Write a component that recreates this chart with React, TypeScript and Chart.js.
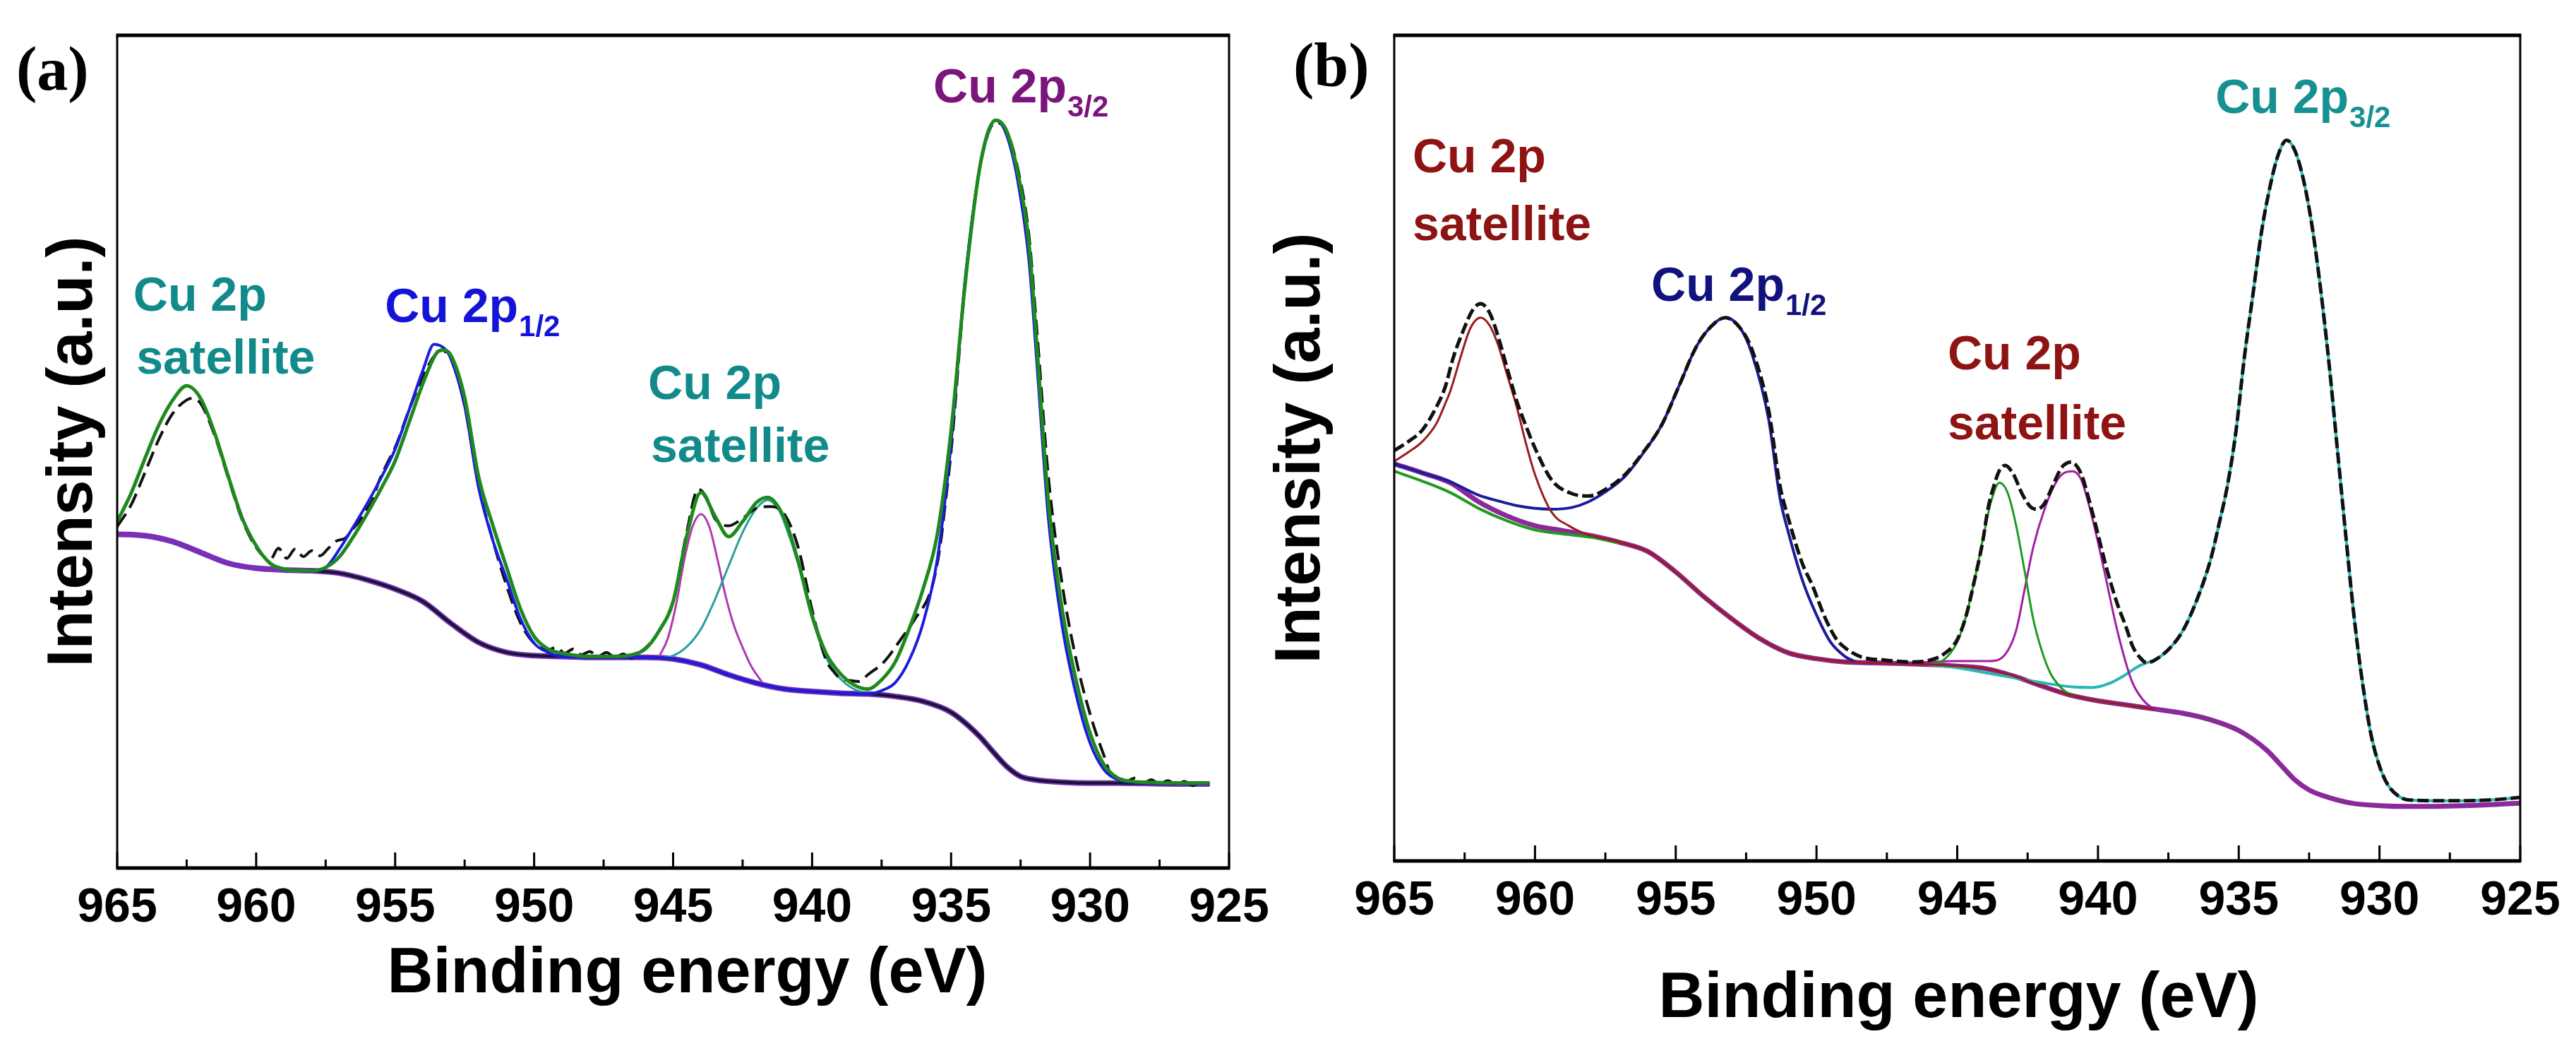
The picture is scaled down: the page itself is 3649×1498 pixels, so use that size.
import { useEffect, useRef } from "react";
import { Chart, registerables } from "chart.js";

Chart.register(...registerables);

type Pt = [number, number];

// x axis ticks (binding energy, eV)
const MAJOR_TICKS = [965, 960, 955, 950, 945, 940, 935, 930, 925];
const MINOR_TICKS = [962.5, 957.5, 952.5, 947.5, 942.5, 937.5, 932.5, 927.5];

// ---------- panel (a) ----------
const A_BACKGROUND: Pt[] = [
  [965, 40.1], [964, 39.9], [963, 39.2], [962, 37.9], [961, 36.6], [960, 36.0], [959, 35.8], [958, 35.7],
  [957, 35.4], [956, 34.6], [955, 33.5], [954, 32.0], [953, 29.4], [952, 27.1], [951, 25.9], [950, 25.5],
  [949, 25.4], [948, 25.3], [947, 25.3], [946, 25.3], [945, 25.1], [944, 24.4], [943, 23.2], [942, 22.2],
  [941, 21.5], [940, 21.2], [939, 21.0], [938, 20.9], [937, 20.6], [936, 20.0], [935, 18.7], [934, 15.9],
  [933.5, 14.0], [933, 12.2], [932.5, 11.0], [932, 10.6], [931, 10.3], [930, 10.2], [929, 10.2], [927, 10.1],
  [925.7, 10.1],
];

const A_FIT: Pt[] = [
  [965, 41.6], [964.5, 45.0], [964, 49.2], [963.5, 53.2], [963, 56.2], [962.5, 57.9], [962, 56.4], [961.5, 52.3],
  [961, 47.0], [960.5, 42.0], [960, 38.7], [959.5, 36.6], [959, 35.9], [958.5, 35.7], [958, 35.7], [957.5, 36.1],
  [957, 37.4], [956.5, 39.8], [956, 42.6], [955.5, 45.6], [955, 48.9], [954.5, 53.5], [954, 58.2], [953.5, 61.9],
  [953.3, 62.2], [953, 61.6], [952.5, 56.5], [952, 47.0], [951.5, 41.3], [951, 36.2], [950.5, 31.2], [950, 27.8],
  [949.5, 26.3], [949, 25.8], [948, 25.4], [947, 25.4], [946.5, 25.6], [946, 26.3], [945.5, 28.5], [945, 32.0],
  [944.5, 40.0], [944, 45.1], [943.5, 42.3], [943, 39.8], [942.5, 41.6], [942, 43.9], [941.6, 44.5], [941, 42.0],
  [940.5, 36.8], [940, 30.3], [939.5, 25.8], [939, 23.4], [938.5, 22.0], [938, 21.5], [937.5, 22.6], [937, 24.8],
  [936.5, 28.8], [936, 33.6], [935.5, 40.0], [935, 52.5], [934.5, 70.0], [934, 83.5], [933.7, 88.0], [933.4, 89.8],
  [933, 88.5], [932.6, 83.5], [932.2, 75.0], [931.9, 62.0], [931.5, 44.0], [931, 31.0], [930.5, 22.5], [930, 16.2],
  [929.5, 12.4], [929, 10.8], [928.5, 10.4], [928, 10.3], [927, 10.2], [926, 10.2], [925.7, 10.2],
];

const A_DATA: Pt[] = [
  [965, 41.0], [964.5, 43.6], [964, 47.5], [963.5, 51.5], [963, 54.6], [962.5, 56.2], [962.3, 56.4], [962, 55.8],
  [961.5, 52.0], [961, 46.8], [960.5, 41.8], [960, 38.5], [959.5, 37.0], [959.2, 38.4], [958.9, 37.2], [958.6, 38.3],
  [958.3, 37.4], [958, 38.1], [957.7, 37.5], [957.4, 38.4], [957.1, 39.3], [956.8, 39.6], [956.5, 40.8], [956.3, 41.6],
  [956, 43.2], [955.8, 44.3], [955.6, 46.3], [955.3, 48.5], [955, 50.5], [954.5, 55.0], [954, 59.0], [953.5, 61.8],
  [953.2, 62.0], [953, 61.5], [952.5, 55.5], [952, 46.0], [951.5, 39.5], [951, 34.0], [950.5, 29.5], [950, 27.0],
  [949.5, 26.2], [949.2, 26.5], [948.9, 25.8], [948.6, 26.3], [948.3, 25.6], [948, 26.0], [947.7, 25.4], [947.4, 25.9],
  [947.1, 25.3], [946.8, 25.7], [946.5, 25.2], [946.2, 25.9], [946, 26.4], [945.5, 28.5], [945, 32.0], [944.5, 40.5],
  [944.1, 45.5], [943.8, 44.5], [943.5, 42.0], [943, 41.1], [942.5, 42.0], [942, 43.2], [941.5, 43.4], [941, 42.5],
  [940.5, 38.5], [940, 31.0], [939.5, 25.0], [939.2, 23.5], [939, 22.8], [938.6, 22.5], [938.3, 22.4], [938, 23.2],
  [937.4, 24.8], [936.8, 27.5], [936.3, 29.9], [935.7, 33.6], [935.4, 38.5], [935.2, 44.0], [935, 50.0], [934.5, 70.0],
  [934, 83.5], [933.4, 89.5], [933, 88.5], [932.6, 84.0], [932.2, 76.0], [931.9, 64.0], [931.5, 47.0], [931, 34.0],
  [930.5, 25.0], [930, 18.5], [929.5, 13.5], [929.2, 11.0], [929, 10.9], [928.7, 10.4], [928.4, 10.8], [928.1, 10.2],
  [927.8, 10.6], [927.5, 10.1], [927.2, 10.5], [926.9, 10.0], [926.6, 10.4], [926.3, 9.9], [926, 10.3], [925.7, 10.0],
];

const A_CU2P_12: Pt[] = [
  [958.5, 35.7], [958, 35.7], [957.5, 36.1], [957, 38.3], [956.5, 41.0], [956, 43.8], [955.5, 46.9], [955, 50.3],
  [954.5, 55.0], [954, 59.8], [953.6, 62.9], [953.2, 62.3], [953, 61.2], [952.5, 55.5], [952, 45.7], [951.5, 39.5],
  [951, 34.8], [950.5, 30.0], [950, 27.0], [949.5, 25.9],
];

const A_CU2P_32: Pt[] = [
  [937.5, 21.3], [937, 22.3], [936.5, 25.0], [936, 29.5], [935.5, 37.0], [935, 51.0], [934.5, 70.5], [934, 83.5],
  [933.7, 88.2], [933.4, 89.8], [933, 88.0], [932.6, 82.5], [932.2, 73.0], [931.9, 60.0], [931.5, 42.0], [931, 29.0],
  [930.5, 20.8], [930, 15.0], [929.5, 11.8], [929, 10.6], [928.5, 10.3], [928, 10.2], [925.7, 10.1],
];

const A_SAT_944: Pt[] = [
  [945.5, 25.4], [945.2, 27.5], [944.9, 31.5], [944.6, 37.0], [944.3, 41.0], [944, 42.5], [943.7, 41.0], [943.4, 37.0],
  [943.1, 32.5], [942.8, 29.0], [942.5, 26.5], [942.2, 24.3], [941.8, 22.3],
];

const A_SAT_941: Pt[] = [
  [945.5, 25.2], [945, 25.5], [944.5, 26.6], [944, 28.7], [943.5, 32.2], [943, 36.3], [942.5, 40.3], [942, 43.2],
  [941.6, 44.2], [941.2, 43.0], [941, 41.5], [940.5, 36.5], [940, 30.0], [939.5, 25.3], [939, 22.8], [938.5, 21.5],
  [938, 21.0],
];

// ---------- panel (b) ----------
const B_BACKGROUND: Pt[] = [
  [965, 48.1], [964, 47.0], [963, 45.8], [962, 43.5], [961, 41.8], [960, 40.6], [959, 40.0], [958, 39.4],
  [957, 38.6], [956, 37.5], [955, 35.0], [954, 32.0], [953, 29.3], [952, 26.9], [951, 25.2], [950, 24.5],
  [949, 24.1], [948, 24.0], [947, 23.9], [946, 23.8], [945, 23.6], [944, 23.3], [943, 22.4], [942, 21.2],
  [941, 20.1], [940, 19.4], [939, 18.9], [938, 18.4], [937, 17.9], [936, 17.1], [935, 15.8], [934, 13.4],
  [933.5, 11.6], [933, 9.8], [932.5, 8.6], [932, 7.9], [931, 7.0], [930, 6.7], [929, 6.6], [927, 6.7], [925, 7.0],
];

const B_DATA: Pt[] = [
  [965, 49.7], [964.5, 50.8], [964, 52.2], [963.5, 55.0], [963.2, 57.3], [962.9, 61.0], [962.6, 63.8], [962.2, 66.8],
  [961.93, 67.5], [961.6, 66.3], [961.3, 63.4], [961, 59.8], [960.65, 55.7], [960.3, 52.5], [960, 50.0], [959.4, 46.1],
  [958.7, 44.5], [958.1, 44.2], [957.45, 45.1], [956.8, 46.8], [956.2, 49.3], [955.5, 52.8], [954.9, 57.4], [954.25, 62.4],
  [953.6, 65.2], [953.23, 65.8], [952.7, 64.5], [952.3, 62.0], [951.7, 54.6], [951.3, 45.5], [951, 41.5], [950.5, 36.0],
  [950.15, 33.4], [949.7, 29.5], [949.3, 26.9], [948.9, 25.6], [948.4, 24.7], [947.5, 24.3], [946.6, 24.1], [946, 24.3],
  [945.5, 25.0], [945, 26.8], [944.7, 29.5], [944.4, 33.8], [944.1, 38.6], [943.9, 42.8], [943.7, 45.4], [943.5, 47.3],
  [943.3, 47.9], [943, 46.8], [942.7, 44.5], [942.4, 42.9], [942.15, 42.6], [941.9, 43.3], [941.6, 45.5], [941.3, 47.6],
  [940.96, 48.3], [940.6, 46.9], [940.3, 43.5], [940.04, 40.1], [939.7, 35.5], [939.33, 31.3], [939, 28.3], [938.77, 26.0],
  [938.5, 24.6], [938.27, 24.0], [938, 24.3], [937.5, 25.6], [937, 27.8], [936.5, 31.5], [936, 36.5], [935.7, 40.8],
  [935.4, 45.5], [935.1, 52.0], [934.8, 61.0], [934.5, 68.5], [934.2, 76.0], [933.9, 81.5], [933.6, 85.5], [933.3, 87.3],
  [933, 86.0], [932.7, 82.5], [932.4, 77.0], [932.1, 69.5], [931.8, 60.5], [931.5, 50.0], [931.2, 39.5], [930.9, 29.5],
  [930.6, 21.5], [930.3, 15.3], [930, 11.5], [929.7, 9.2], [929.3, 7.8], [929, 7.4], [928, 7.3], [927, 7.3],
  [926, 7.4], [925, 7.7],
];

const B_SAT_962: Pt[] = [
  [965, 48.4], [964.5, 49.5], [964, 50.8], [963.5, 53.0], [963.2, 55.3], [963, 57.0], [962.6, 61.5], [962.3, 64.5],
  [961.93, 65.8], [961.6, 64.8], [961.3, 62.4], [961, 59.0], [960.65, 55.0], [960.3, 50.3], [960, 46.8], [959.4, 42.2],
  [958.8, 40.6], [958.2, 39.6],
];

const B_CU2P_12: Pt[] = [
  [965, 48.1], [964, 47.0], [963, 45.9], [962, 44.3], [961.3, 43.6], [960.6, 43.0], [960, 42.7], [959.4, 42.6],
  [958.7, 42.8], [958.1, 43.5], [957.5, 44.7], [956.8, 46.6], [956.2, 49.2], [955.5, 52.8], [954.9, 57.4], [954.25, 62.4],
  [953.6, 65.2], [953.24, 65.8], [952.7, 64.5], [952.3, 61.5], [951.7, 53.5], [951.3, 44.0], [951, 39.8], [950.5, 34.0],
  [950, 29.8], [949.5, 26.5], [949, 24.8], [948.6, 24.1],
];

const B_GREEN_BASE: Pt[] = [
  [965, 47.2], [964, 46.0], [963, 44.6], [962, 42.7], [961, 41.2], [960, 40.1], [959, 39.6], [958, 39.2], [957, 38.5],
];

const B_SAT_943: Pt[] = [
  [946, 23.8], [945.5, 24.3], [945, 26.5], [944.7, 29.5], [944.4, 33.8], [944.1, 38.8], [943.8, 43.5], [943.5, 45.8],
  [943.2, 44.5], [942.9, 40.5], [942.6, 35.0], [942.3, 29.3], [942, 25.5], [941.7, 22.8], [941.4, 21.3], [941.1, 20.4],
  [940.8, 20.0],
];

const B_SAT_941: Pt[] = [
  [947, 23.9], [946, 24.1], [945, 24.2], [944, 24.2], [943.6, 24.3], [943.2, 25.5], [942.9, 28.0], [942.6, 33.0],
  [942.3, 38.0], [941.9, 42.6], [941.5, 45.8], [941.2, 47.0], [940.9, 47.2], [940.6, 46.2], [940.2, 41.5], [939.8, 35.5],
  [939.3, 27.7], [938.8, 21.8], [938.4, 19.5], [938.07, 18.5],
];

const B_CU2P_32_BASE: Pt[] = [
  [946, 23.8], [945, 23.4], [944, 22.8], [943, 22.2], [942, 21.6], [941, 21.1], [940.2, 21.0], [939.6, 21.5],
  [939, 22.6], [938.6, 23.5],
];

const SANS = '"Liberation Sans", Arial, Helvetica, sans-serif';
const SERIF = '"Liberation Serif", "Times New Roman", serif';

interface PeakLabel {
  text: string;
  sub?: string;
  e: number;
  i: number;
  color: string;
}

const LABELS_A: PeakLabel[] = [
  { text: "Cu 2p", sub: "3/2", e: 935.64, i: 91.9, color: "#7b157b" },
  { text: "Cu 2p", e: 964.42, i: 66.9, color: "#138a8a" },
  { text: "satellite", e: 964.31, i: 59.4, color: "#138a8a" },
  { text: "Cu 2p", sub: "1/2", e: 955.37, i: 65.6, color: "#1414d8" },
  { text: "Cu 2p", e: 945.9, i: 56.3, color: "#138a8a" },
  { text: "satellite", e: 945.8, i: 48.8, color: "#138a8a" },
];

const LABELS_B: PeakLabel[] = [
  { text: "Cu 2p", e: 964.35, i: 83.4, color: "#8e1414" },
  { text: "satellite", e: 964.35, i: 75.2, color: "#8e1414" },
  { text: "Cu 2p", sub: "1/2", e: 955.87, i: 67.8, color: "#12127e" },
  { text: "Cu 2p", e: 945.34, i: 59.5, color: "#8e1414" },
  { text: "satellite", e: 945.34, i: 51.1, color: "#8e1414" },
  { text: "Cu 2p", sub: "3/2", e: 935.83, i: 90.6, color: "#169090" },
];

const between = (pts: Pt[], hi: number, lo: number) => pts.filter(([e]) => e <= hi && e >= lo);
const joinPts = (...parts: Pt[][]) => parts.flat().sort((p, q) => q[0] - p[0]);

function line(pts: Pt[], color: string, width: number, dash: number[] = []) {
  return {
    data: pts.map(([x, y]) => ({ x, y })),
    borderColor: color,
    borderWidth: width,
    borderDash: dash,
    pointRadius: 0,
    fill: false,
    cubicInterpolationMode: "monotone" as const,
  };
}

// datasets: first entry is drawn on top
const DATASETS_A = () => [
  line(A_FIT, "#1e8a1e", 5),
  line(joinPts(A_CU2P_12, between(A_BACKGROUND, 949.4, 937.6), A_CU2P_32), "#1c1ce0", 4),
  line(A_DATA, "#111111", 4, [22, 10]),
  line(between(A_BACKGROUND, 958.5, 925), "#15152e", 4),
  line(A_SAT_941, "#2a9d9d", 3),
  line(A_SAT_944, "#b03ab0", 3),
  line(A_BACKGROUND, "#7a2fb8", 8),
];

const DATASETS_B = () => [
  line(B_DATA, "#111111", 5, [16, 6]),
  line(joinPts(B_SAT_962, between(B_BACKGROUND, 958.1, 938)), "#9b1c1c", 3),
  line(B_CU2P_12, "#1c1c9c", 4),
  line(B_GREEN_BASE, "#1f9a1f", 4),
  line(B_SAT_943, "#1f9a1f", 3),
  line(B_SAT_941, "#a21ea2", 3),
  line(joinPts(B_CU2P_32_BASE, between(B_DATA, 938.27, 925)), "#2bb5b5", 4),
  line(B_BACKGROUND, "#8a2a9a", 7),
];

interface PanelCfg {
  letter: string;
  canvasLeft: number;
  width: number;
  plotLeft: number;
  plotRight: number;
  plotBottom: number;
  titleDx: number;
  titleBaseline: number;
  yTitleGap: number;
  letterBaseline: number;
  labels: PeakLabel[];
  datasets: () => any[];
}

const HEIGHT = 1498;
const PLOT_TOP = 50;

const PANELS: PanelCfg[] = [
  {
    letter: "(a)", canvasLeft: 0, width: 1820, plotLeft: 166, plotRight: 1741, plotBottom: 1229,
    titleDx: 20, titleBaseline: 1405, yTitleGap: 36, letterBaseline: 127, labels: LABELS_A, datasets: DATASETS_A,
  },
  {
    letter: "(b)", canvasLeft: 1760, width: 1889, plotLeft: 215, plotRight: 1810, plotBottom: 1219,
    titleDx: 2, titleBaseline: 1440, yTitleGap: 106, letterBaseline: 122, labels: LABELS_B, datasets: DATASETS_B,
  },
];

function decorations(cfg: PanelCfg) {
  return {
    id: "decorations",
    afterDraw(chart: Chart) {
      const { ctx, chartArea: a } = chart;
      const xs = chart.scales.x;
      const ys = chart.scales.y;
      ctx.save();
      ctx.strokeStyle = "#000";
      ctx.lineWidth = 3;
      ctx.beginPath();
      ctx.moveTo(a.left, a.top);
      ctx.lineTo(a.left, a.bottom);
      ctx.moveTo(a.right, a.top);
      ctx.lineTo(a.right, a.bottom);
      ctx.stroke();
      ctx.lineWidth = 5;
      ctx.beginPath();
      ctx.moveTo(a.left - 1.5, a.top);
      ctx.lineTo(a.right + 1.5, a.top);
      ctx.moveTo(a.left - 1.5, a.bottom);
      ctx.lineTo(a.right + 1.5, a.bottom);
      ctx.stroke();

      // inward ticks on the bottom axis
      ctx.lineWidth = 3;
      ctx.beginPath();
      MAJOR_TICKS.forEach((v) => {
        const px = xs.getPixelForValue(v);
        ctx.moveTo(px, a.bottom);
        ctx.lineTo(px, a.bottom - 22);
      });
      MINOR_TICKS.forEach((v) => {
        const px = xs.getPixelForValue(v);
        ctx.moveTo(px, a.bottom);
        ctx.lineTo(px, a.bottom - 12);
      });
      ctx.stroke();

      // peak labels
      ctx.textAlign = "left";
      ctx.textBaseline = "alphabetic";
      cfg.labels.forEach((l) => {
        const px = xs.getPixelForValue(l.e);
        const py = ys.getPixelForValue(l.i);
        ctx.fillStyle = l.color;
        ctx.font = `bold 68px ${SANS}`;
        ctx.fillText(l.text, px, py);
        if (l.sub) {
          const w = ctx.measureText(l.text).width;
          ctx.font = `bold 42px ${SANS}`;
          ctx.fillText(l.sub, px + w + 1, py + 20);
        }
      });

      // axis titles
      ctx.fillStyle = "#000";
      ctx.font = `bold 90px ${SANS}`;
      ctx.textAlign = "center";
      ctx.fillText("Binding energy (eV)", (a.left + a.right) / 2 + cfg.titleDx, cfg.titleBaseline);
      ctx.save();
      ctx.translate(a.left - cfg.yTitleGap, (a.top + a.bottom) / 2);
      ctx.rotate(-Math.PI / 2);
      ctx.fillText("Intensity (a.u.)", 0, 0);
      ctx.restore();

      // panel letter
      ctx.font = `bold 88px ${SERIF}`;
      ctx.textAlign = "left";
      ctx.fillText(cfg.letter, a.left - 143, cfg.letterBaseline);
      ctx.restore();
    },
  };
}

function Panel({ cfg }: { cfg: PanelCfg }) {
  const canvasRef = useRef<HTMLCanvasElement>(null);

  useEffect(() => {
    if (!canvasRef.current) return;
    const chart = new Chart(canvasRef.current, {
      type: "line",
      data: { datasets: cfg.datasets() },
      options: {
        responsive: false,
        animation: false,
        devicePixelRatio: 1,
        events: [],
        layout: {
          padding: { left: cfg.plotLeft, right: cfg.width - cfg.plotRight, top: PLOT_TOP, bottom: 0 },
        },
        plugins: { legend: { display: false }, tooltip: { enabled: false } },
        scales: {
          x: {
            type: "linear",
            reverse: true,
            min: 925,
            max: 965,
            afterFit: (scale: any) => {
              scale.height = HEIGHT - cfg.plotBottom;
            },
            grid: { display: false, drawTicks: false },
            border: { display: false },
            ticks: {
              stepSize: 5,
              autoSkip: false,
              maxRotation: 0,
              padding: 16,
              color: "#000",
              font: { family: SANS, size: 68, weight: "bold" },
              callback: (v: any) => String(v),
            },
          },
          y: { type: "linear", display: false, min: 0, max: 100 },
        },
      },
      plugins: [decorations(cfg)],
    });
    return () => chart.destroy();
  }, [cfg]);

  return (
    <canvas
      ref={canvasRef}
      width={cfg.width}
      height={HEIGHT}
      style={{ position: "absolute", left: cfg.canvasLeft, top: 0, width: cfg.width, height: HEIGHT }}
    />
  );
}

export default function App() {
  return (
    <div style={{ position: "absolute", left: 0, top: 0, width: 3649, height: HEIGHT, background: "#fff" }}>
      {PANELS.map((p) => (
        <Panel key={p.letter} cfg={p} />
      ))}
    </div>
  );
}
